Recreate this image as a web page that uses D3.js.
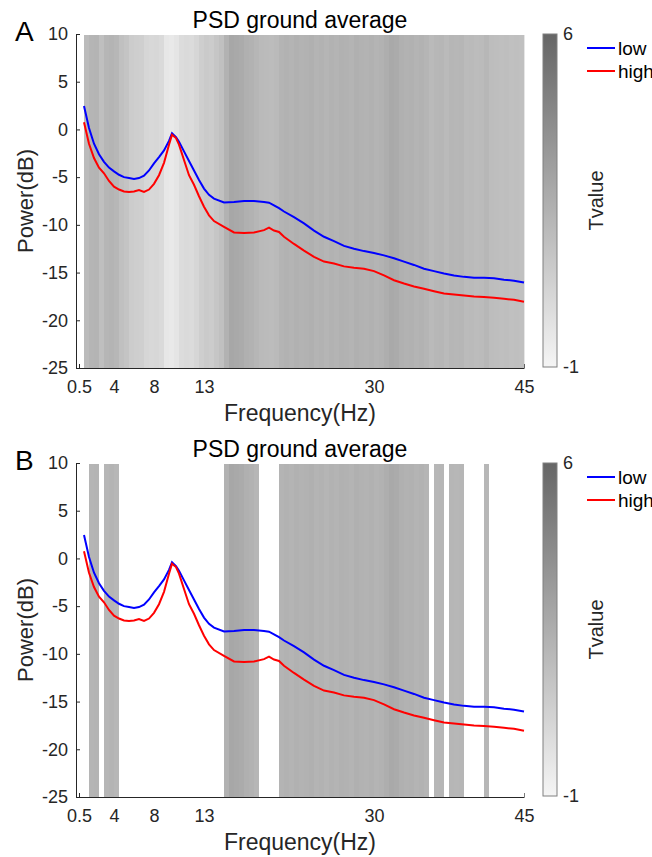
<!doctype html>
<html lang="en">
<head>
<meta charset="utf-8">
<title>PSD ground average</title>
<style>
  body { margin: 0; background: #fff; }
  text { font-family: "Liberation Sans", Arial, sans-serif; fill: #262626; }
</style>
</head>
<body>
<script src="https://d3js.org/d3.v7.min.js"></script>
<script>
// power spectra (dB)
var freqs = [1, 1.5, 2, 2.5, 3, 3.5, 4, 4.5, 5, 5.5, 6, 6.5, 7, 7.5, 8, 8.5, 9, 9.5, 9.8, 10.2,
    10.5, 11, 11.5, 12, 12.5, 13, 13.5, 14, 15, 16, 17, 18, 19, 19.5, 20, 20.5, 21, 22, 23, 24,
    25, 26, 27, 28, 29, 30, 31, 32, 33, 34, 35, 36, 37, 38, 39, 40, 41, 42, 43, 44, 45];
var lowPower = [2.45, 0.15, -1.5, -2.6, -3.4, -4.0, -4.4, -4.75, -5.0, -5.1, -5.2, -5.1, -4.85, -4.3, -3.55, -2.9, -2.2, -1.2, -0.4, -0.8,
    -1.3, -2.3, -3.3, -4.3, -5.3, -6.2, -6.85, -7.25, -7.65, -7.6, -7.5, -7.5, -7.6, -7.68, -7.95, -8.25, -8.6, -9.2, -9.85, -10.6,
    -11.25, -11.7, -12.2, -12.5, -12.75, -12.95, -13.2, -13.5, -13.85, -14.2, -14.6, -14.85, -15.1, -15.3, -15.45, -15.55, -15.55, -15.6, -15.75, -15.85, -16.05];
var highPower = [0.75, -1.5, -3.0, -4.0, -4.6, -5.4, -6.0, -6.3, -6.5, -6.55, -6.5, -6.35, -6.55, -6.3, -5.7, -4.8, -3.5, -1.6, -0.55, -0.9,
    -1.6, -3.2, -4.8, -5.8, -7.0, -8.1, -9.0, -9.6, -10.2, -10.8, -10.85, -10.8, -10.55, -10.3, -10.6, -10.75, -11.25, -12.0, -12.7, -13.35,
    -13.85, -14.05, -14.35, -14.5, -14.6, -14.85, -15.3, -15.8, -16.15, -16.45, -16.7, -16.95, -17.2, -17.3, -17.4, -17.5, -17.55, -17.65, -17.75, -17.85, -18.05];

// t values per 0.5 Hz bin (bin centres)
var tFreqs = [1.25, 1.75, 2.25, 2.75, 3.25, 3.75, 4.25, 4.75, 5.25, 5.75, 6.25, 6.75, 7.25, 7.75, 8.25, 8.75, 9.25, 9.75, 10.25, 10.75,
    11.25, 11.75, 12.25, 12.75, 13.25, 13.75, 14.25, 14.75, 15.25, 15.75, 16.25, 16.75, 17.25, 17.75, 18.25, 18.75, 19.25, 19.75, 20.25, 20.75,
    21.25, 21.75, 22.25, 22.75, 23.25, 23.75, 24.25, 24.75, 25.25, 25.75, 26.25, 26.75, 27.25, 27.75, 28.25, 28.75, 29.25, 29.75, 30.25, 30.75,
    31.25, 31.75, 32.25, 32.75, 33.25, 33.75, 34.25, 34.75, 35.25, 35.75, 36.25, 36.75, 37.25, 37.75, 38.25, 38.75, 39.25, 39.75, 40.25, 40.75,
    41.25, 41.75, 42.25, 42.75, 43.25, 43.75, 44.25, 44.75];
var tValues = [1.85, 2.15, 2.2, 1.65, 2.1, 2.2, 2.05, 1.6, 1.4, 1.0, 0.9, 0.85, 0.5, 0.4, 0.45, 0.3, -0.3, -0.4, -0.2, 0.2,
    0.3, 0.25, 0.5, 0.9, 1.1, 1.0, 1.3, 1.6, 2.3, 2.8, 2.7, 2.6, 2.4, 2.3, 2.1, 1.9, 1.85, 1.8, 1.9, 2.2,
    2.3, 2.2, 2.35, 2.25, 2.3, 2.4, 2.2, 2.3, 2.15, 2.3, 2.2, 2.35, 2.3, 2.2, 2.4, 2.3, 2.25, 2.35, 2.2, 2.3,
    2.5, 2.7, 2.6, 2.4, 2.3, 2.35, 2.2, 2.3, 2.15, 1.9, 2.05, 2.1, 1.9, 2.1, 2.05, 2.1, 1.85, 1.9, 1.8, 1.85,
    2.05, 1.75, 1.7, 1.65, 1.7, 1.6, 1.65, 1.6];
var tCrit = 2.0;
var binWidth = 0.5;

var yTicks = [-25, -20, -15, -10, -5, 0, 5, 10];
var xTicks = [0.5, 4, 8, 13, 30, 45];
var cTicks = [-1, 6];
var seriesNames = ["low", "high"];
var seriesColors = ["#0000ff", "#ff0000"];
var panelLetters = ["A", "B"];
var panelTops = [0, 429];

var W = 652, H = 857;
var svg = d3.select("body").append("svg")
    .attr("width", W)
    .attr("height", H);

var x = d3.scaleLinear().domain([0.2, 45]).range([76, 524]);
var y = d3.scaleLinear().domain([-25, 10]).range([368, 34]);
var gray = d3.scaleLinear().domain([-1, 6]).range(["#f5f5f5", "#666666"]);
var cy = d3.scaleLinear().domain([-1, 6]).range([367, 34]);
var plain = function(d) { return String(d); };   // keep ASCII hyphen minus

var grad = svg.append("defs").append("linearGradient")
    .attr("id", "cbar")
    .attr("x1", 0).attr("y1", 1).attr("x2", 0).attr("y2", 0);
grad.selectAll("stop")
    .data(cTicks)
    .enter().append("stop")
    .attr("offset", function(d, i) { return i; })
    .attr("stop-color", function(d) { return gray(d); });

var line = d3.line()
    .x(function(d) { return x(d[0]); })
    .y(function(d) { return y(d[1]); });

var series = [lowPower, highPower];

panelLetters.forEach(function(letter, p) {
    var g = svg.append("g").attr("transform", "translate(0," + panelTops[p] + ")");
    var sigOnly = p === 1;

    g.append("text")
        .attr("x", 300).attr("y", 28)
        .attr("text-anchor", "middle")
        .style("font-size", "23px")
        .style("fill", "#000")
        .text("PSD ground average");

    g.append("text")
        .attr("x", 15).attr("y", 41)
        .style("font-size", "28px")
        .style("fill", "#000")
        .text(letter);

    var yAxis = g.append("g")
        .attr("transform", "translate(76,0)")
        .call(d3.axisLeft(y).tickValues(yTicks).tickFormat(plain).tickSizeInner(-4).tickSizeOuter(0).tickPadding(8));
    var xAxis = g.append("g")
        .attr("transform", "translate(0,368)")
        .call(d3.axisBottom(x).tickValues(xTicks).tickFormat(plain).tickSizeInner(-4).tickSizeOuter(0).tickPadding(12));
    [yAxis, xAxis].forEach(function(a) {
        a.selectAll("path, line").attr("stroke", "#262626");
        a.selectAll("text").style("font-size", "18px").style("font-family", "'Liberation Sans', Arial, sans-serif").attr("fill", "#262626");
    });

    // t-value strip
    g.append("g").selectAll("rect")
        .data(tFreqs.map(function(f, i) { return [f, tValues[i]]; }))
        .enter().append("rect")
        .attr("x", function(d) { return x(d[0] - binWidth / 2); })
        .attr("width", function(d) { return x(d[0] + binWidth / 2) - x(d[0] - binWidth / 2) + 0.4; })
        .attr("y", y(10) + 1)
        .attr("height", y(-25) - y(10) - 1)
        .attr("fill", function(d) { return (sigOnly && d[1] < tCrit) ? "#ffffff" : gray(d[1]); });

    series.forEach(function(s, i) {
        g.append("path")
            .datum(freqs.map(function(f, k) { return [f, s[k]]; }))
            .attr("d", line)
            .attr("fill", "none")
            .attr("stroke", seriesColors[i])
            .attr("stroke-width", 2);
    });

    g.append("text")
        .attr("transform", "translate(33," + ((y(10) + y(-25)) / 2) + ") rotate(-90)")
        .attr("text-anchor", "middle")
        .style("font-size", "22px")
        .text("Power(dB)");
    g.append("text")
        .attr("x", 300).attr("y", 421)
        .attr("text-anchor", "middle")
        .style("font-size", "23px")
        .text("Frequency(Hz)");

    // colorbar
    g.append("rect")
        .attr("x", 543).attr("y", cy(6))
        .attr("width", 14).attr("height", cy(-1) - cy(6))
        .attr("fill", "url(#cbar)")
        .attr("stroke", "#808080").attr("stroke-width", 1);
    var cAxis = g.append("g")
        .attr("transform", "translate(557,0)")
        .call(d3.axisRight(cy).tickValues(cTicks).tickFormat(plain).tickSize(0).tickPadding(6));
    cAxis.select(".domain").remove();
    cAxis.selectAll("text").style("font-size", "18px").style("font-family", "'Liberation Sans', Arial, sans-serif").attr("fill", "#262626");
    g.append("text")
        .attr("transform", "translate(603," + ((cy(6) + cy(-1)) / 2) + ") rotate(-90)")
        .attr("text-anchor", "middle")
        .style("font-size", "20px")
        .text("Tvalue");

    // legend ("high" runs off the right edge, as in the original figure)
    seriesNames.forEach(function(name, i) {
        var ly = 48 + i * 23;
        g.append("line")
            .attr("x1", 587).attr("x2", 615)
            .attr("y1", ly).attr("y2", ly)
            .attr("stroke", seriesColors[i]).attr("stroke-width", 2);
        g.append("text")
            .attr("x", 618).attr("y", ly + 7)
            .style("font-size", "19px")
            .style("fill", "#000")
            .text(name);
    });
});
</script>
</body>
</html>
